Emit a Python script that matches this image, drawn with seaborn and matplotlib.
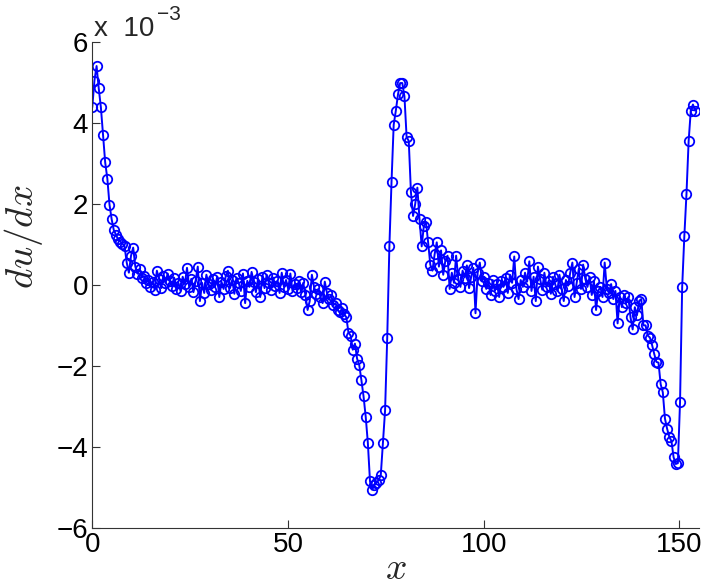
import numpy as np
import seaborn as sns
import matplotlib
matplotlib.use("Agg")
import matplotlib.pyplot as plt

# du/dx samples, in units of 1e-3, on a uniform grid
x_step = 0.55
du_dx = [
    4.38, 5.04, 5.40, 4.85, 4.38, 3.70, 3.02, 2.62, 1.98, 1.62,
    1.35, 1.24, 1.12, 1.07, 1.02, 0.95, 0.55, 0.30, 0.72, 0.92,
    0.45, 0.28, 0.40, 0.18, 0.22, 0.05, 0.12, -0.05, 0.08, -0.12,
    0.35, 0.15, -0.08, 0.22, 0.05, 0.28, 0.10, -0.02, 0.18, -0.10,
    0.05, -0.15, 0.20, 0.02, 0.42, -0.05, 0.15, -0.18, 0.10, 0.45,
    -0.40, 0.05, -0.20, 0.25, 0.02, -0.12, 0.15, -0.05, 0.20, -0.30,
    0.08, -0.10, 0.22, 0.35, -0.08, 0.12, -0.22, 0.18, 0.05, -0.15,
    0.28, -0.45, 0.10, -0.05, 0.32, 0.08, -0.18, 0.15, -0.30, 0.20,
    -0.08, 0.25, 0.05, -0.12, 0.18, -0.02, 0.10, -0.20, 0.30, -0.05,
    0.12, -0.10, 0.28, -0.15, 0.02, -0.08, 0.10, -0.18, 0.05, -0.25,
    -0.62, -0.40, 0.25, -0.05, -0.22, -0.10, -0.30, -0.45, 0.08, -0.20,
    -0.35, -0.25, -0.50, -0.45, -0.62, -0.68, -0.58, -0.72, -0.80, -1.18,
    -1.25, -1.60, -1.45, -1.82, -1.98, -2.35, -2.75, -3.25, -3.90, -4.85,
    -5.05, -4.95, -4.88, -4.82, -4.70, -3.90, -3.10, -1.30, 0.95, 2.55,
    3.95, 4.30, 4.70, 4.98, 4.98, 4.65, 3.65, 3.55, 2.30, 1.70,
    2.00, 2.40, 1.62, 0.95, 1.45, 1.55, 1.05, 0.50, 0.35, 0.75,
    1.05, 0.45, 0.85, 0.25, 0.60, 0.72, -0.10, 0.30, 0.05, 0.72,
    0.15, -0.05, 0.35, 0.18, 0.48, -0.08, 0.20, 0.42, -0.70, 0.30,
    0.55, 0.10, 0.20, -0.10, 0.05, -0.25, 0.12, -0.15, 0.02, -0.30,
    0.10, -0.05, 0.18, -0.20, 0.25, 0.05, 0.70, -0.10, -0.35, 0.12,
    -0.05, 0.30, 0.08, 0.58, -0.15, 0.20, -0.40, 0.45, 0.15, -0.12,
    0.30, -0.05, 0.10, -0.22, 0.20, 0.02, -0.15, 0.25, -0.10, -0.40,
    0.12, -0.02, 0.30, 0.55, -0.30, 0.05, 0.40, -0.10, 0.50, 0.15,
    -0.05, 0.20, -0.25, 0.10, -0.62, -0.15, -0.05, -0.30, 0.55, -0.10,
    -0.20, 0.02, -0.35, -0.15, -0.95, -0.30, -0.55, -0.25, -0.45, -0.30,
    -0.80, -1.10, -0.55, -0.75, -0.40, -0.35, -1.00, -1.00, -1.25, -1.30,
    -1.48, -1.70, -1.90, -1.92, -2.45, -2.65, -3.30, -3.55, -3.75, -3.85,
    -4.25, -4.42, -4.40, -2.90, -0.05, 1.20, 2.25, 3.55, 4.30, 4.45, 4.30,
]
x_vals = np.arange(len(du_dx)) * x_step

x_ticks = [0, 50, 100, 150]
y_ticks = [-6, -4, -2, 0, 2, 4, 6]

sns.set_theme(style="white")
plt.rcParams["font.family"] = ["Liberation Sans", "DejaVu Sans"]
plt.rcParams["mathtext.fontset"] = "cm"

fig = plt.figure(figsize=(7.06, 5.85), dpi=100)
ax = fig.add_axes([0.1307, 0.0974, 0.8594, 0.8313])

sns.lineplot(x=x_vals, y=du_dx, ax=ax, sort=False, estimator=None,
             color="blue", linewidth=1.4, marker="o", markersize=6.8,
             markerfacecolor="none", markeredgecolor="blue", markeredgewidth=1.3)

ax.set_xlim(0, 155)
ax.set_ylim(-6, 6)
ax.set_xticks(x_ticks)
ax.set_yticks(y_ticks)
ax.tick_params(bottom=True, left=True, direction="in", length=6, width=0.8,
               color="0.2", labelsize=20, labelcolor="black", pad=3)
for side in ["top", "right"]:
    ax.spines[side].set_visible(False)
for side in ["left", "bottom"]:
    ax.spines[side].set_color("0.2")
    ax.spines[side].set_linewidth(0.8)

ax.set_xlabel("$x$", fontsize=27, labelpad=-5)
ax.set_ylabel("$du/dx$", fontsize=28)
ax.yaxis.set_label_coords(-0.078, 0.6)

# MATLAB style exponent above the y axis
ax.text(0.003, 1.0, "x  10", transform=ax.transAxes, fontsize=20,
        ha="left", va="bottom")
ax.text(0.106, 1.036, "\u22123", transform=ax.transAxes, fontsize=15,
        ha="left", va="bottom")

fig.savefig("out.png", dpi=100)
